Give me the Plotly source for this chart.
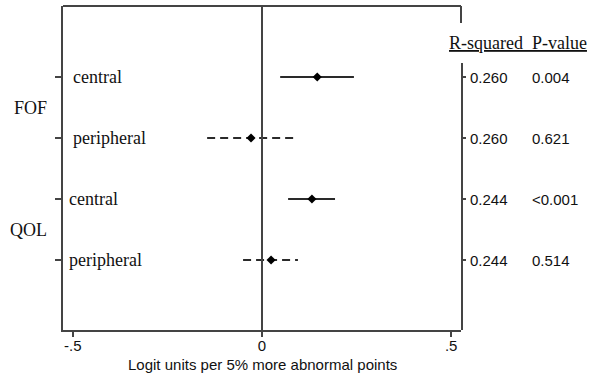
import plotly.graph_objects as go

# ---- data ----
groups = ["FOF", "FOF", "QOL", "QOL"]
regions = ["central", "peripheral", "central", "peripheral"]
estimates = [0.146, -0.029, 0.132, 0.024]
ci_low = [0.048, -0.145, 0.069, -0.050]
ci_high = [0.243, 0.085, 0.193, 0.095]
r_squared = ["0.260", "0.260", "0.244", "0.244"]
p_values = ["0.004", "0.621", "<0.001", "0.514"]
x_tickvals = [-0.5, 0, 0.5]
x_ticktext = ["-.5", "0", ".5"]
rows = [1, 2, 3, 4]

SERIF = "Liberation Serif, Times New Roman, serif"
SANS = "Liberation Sans, Arial, sans-serif"
LINE = "#2a2a2a"
AXIS = "#444444"

fig = go.Figure()

for i, r in enumerate(rows):
    dash = "solid" if regions[i] == "central" else "8px,5px"
    fig.add_trace(go.Scatter(
        x=[ci_low[i], ci_high[i]], y=[r, r], mode="lines",
        line=dict(color=LINE, width=2, dash=dash),
        showlegend=False, hoverinfo="skip"))

fig.add_trace(go.Scatter(
    x=estimates, y=rows, mode="markers",
    marker=dict(symbol="diamond", size=7, color="black"),
    showlegend=False))

# invisible trace to carry the right-hand axis
fig.add_trace(go.Scatter(
    x=[0] * len(rows), y=rows, yaxis="y2", mode="markers",
    marker=dict(opacity=0), showlegend=False, hoverinfo="skip"))

W, H = 590, 375
L, R, T, B = 63, 129, 6, 45
pw, ph = W - L - R, H - T - B

def px_x(px):
    return (px - L) / pw

def px_y(py):
    return (H - B - py) / ph

annotations = []
# row labels
for i, r in enumerate(rows):
    xpx = 71 if groups[i] == "FOF" else 67
    annotations.append(dict(
        x=px_x(xpx), xref="paper", y=r, yref="y", text=regions[i],
        showarrow=False, xanchor="left", yanchor="middle",
        font=dict(family=SERIF, size=18, color="#111")))
    annotations.append(dict(
        x=px_x(468), xref="paper", y=r, yref="y", text=r_squared[i],
        showarrow=False, xanchor="left", yanchor="middle",
        font=dict(family=SANS, size=15, color="#111")))
    annotations.append(dict(
        x=px_x(530), xref="paper", y=r, yref="y", text=p_values[i],
        showarrow=False, xanchor="left", yanchor="middle",
        font=dict(family=SANS, size=15, color="#111")))

# group labels
for g, (a, b) in {"FOF": (1, 2), "QOL": (3, 4)}.items():
    annotations.append(dict(
        x=px_x(49), xref="paper", y=(a + b) / 2, yref="y", text=g,
        showarrow=False, xanchor="right", yanchor="middle",
        font=dict(family=SERIF, size=18, color="#111")))

# header
annotations.append(dict(
    x=px_x(447), xref="paper", y=px_y(43), yref="paper",
    text="<u>R-squared  P-value</u>", showarrow=False,
    xanchor="left", yanchor="middle",
    font=dict(family=SERIF, size=18, color="#111")))

# x-axis title
annotations.append(dict(
    x=0.5, xref="paper", y=px_y(364), yref="paper",
    text="Logit units per 5% more abnormal points", showarrow=False,
    xanchor="center", yanchor="middle",
    font=dict(family=SANS, size=15, color="#111")))

shapes = [
    dict(type="line", xref="paper", yref="paper", x0=0, x1=1, y0=1, y1=1,
         line=dict(color=AXIS, width=2)),
    dict(type="line", xref="paper", yref="paper", x0=1, x1=1, y0=1,
         y1=px_y(23), line=dict(color=AXIS, width=2)),
]

row_px0, row_step = 16, 61
def val_at(py):
    return (py - row_px0) / row_step

fig.update_layout(
    width=W, height=H,
    margin=dict(l=L, r=R, t=T, b=B),
    paper_bgcolor="white", plot_bgcolor="rgba(0,0,0,0)",
    xaxis=dict(range=[-0.526, 0.526], tickvals=x_tickvals, ticktext=x_ticktext,
               ticks="outside", ticklen=5, tickwidth=1.5, tickcolor=AXIS,
               ticklabelstandoff=-4,
               showline=True, linecolor=AXIS, linewidth=2,
               showgrid=False, zeroline=True, zerolinecolor=AXIS, zerolinewidth=2,
               tickfont=dict(family=SANS, size=15, color="#111")),
    yaxis=dict(range=[val_at(H - B), val_at(T)], tickvals=rows,
               ticktext=[""] * len(rows), ticks="outside", ticklen=6,
               tickwidth=1.5, tickcolor=AXIS,
               showline=True, linecolor=AXIS, linewidth=2,
               showgrid=False, zeroline=False),
    yaxis2=dict(anchor="x", side="right", domain=[0, px_y(63)],
                range=[val_at(H - B), val_at(63)], tickvals=rows,
                ticktext=[""] * len(rows), ticks="outside", ticklen=3,
                tickwidth=1.5, tickcolor=AXIS,
                showline=True, linecolor=AXIS, linewidth=2,
                showgrid=False, zeroline=False),
    annotations=annotations, shapes=shapes,
)

fig.write_html("out.html", config={"displayModeBar": False},
               post_script="document.body.style.margin='0';document.body.style.overflow='hidden';")
